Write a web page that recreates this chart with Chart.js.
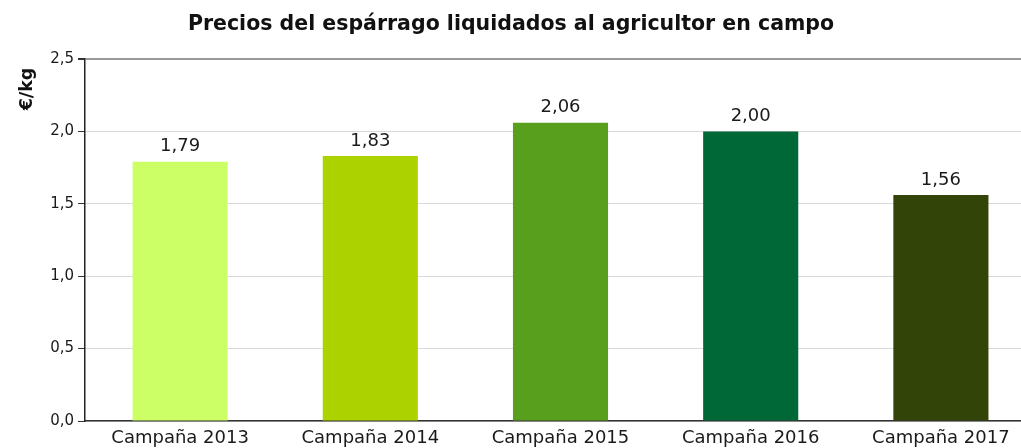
<!DOCTYPE html>
<html>
<head>
<meta charset="utf-8">
<script src="https://cdn.jsdelivr.net/npm/chart.js@4"></script>
<style>
html,body{margin:0;padding:0;background:#fff;overflow:hidden;}
#wrap{position:relative;width:1036px;height:448px;}
</style>
</head>
<body>
<div id="wrap"><canvas id="c"></canvas></div>
<script>
const chartTitle = 'Precios del espárrago liquidados al agricultor en campo';
const yAxisTitle = '€/kg';
const categories = ['Campaña 2013','Campaña 2014','Campaña 2015','Campaña 2016','Campaña 2017'];
const prices = [1.79, 1.83, 2.06, 2.00, 1.56];
const barColors = ['#CCFF66','#ACD300','#589F1E','#006837','#334409'];
const yTickLabels = ['0,0','0,5','1,0','1,5','2,0','2,5'];

const FONT = '"DejaVu Sans", sans-serif';

const titlePlugin = {
  id: 'customTitle',
  afterDraw(chart) {
    const ctx = chart.ctx;
    ctx.save();
    ctx.font = 'bold 20.5px ' + FONT;
    ctx.fillStyle = '#111';
    ctx.textAlign = 'center';
    ctx.textBaseline = 'middle';
    ctx.fillText(chartTitle, 511, 25);
    ctx.translate(27, 89);
    ctx.rotate(-Math.PI/2);
    ctx.font = 'bold 17.5px ' + FONT;
    ctx.fillText(yAxisTitle, 0, 0);
    ctx.restore();
  }
};

const labelPlugin = {
  id: 'valueLabels',
  afterDatasetsDraw(chart) {
    const ctx = chart.ctx;
    const meta = chart.getDatasetMeta(0);
    ctx.save();
    ctx.font = '18px ' + FONT;
    ctx.fillStyle = '#1a1a1a';
    ctx.textAlign = 'center';
    ctx.textBaseline = 'bottom';
    meta.data.forEach((bar, i) => {
      ctx.fillText(prices[i].toFixed(2).replace('.', ','), bar.x, bar.y - 6);
    });
    ctx.restore();
  }
};

new Chart(document.getElementById('c'), {
  type: 'bar',
  data: {
    labels: categories,
    datasets: [{
      data: prices,
      backgroundColor: barColors,
      borderWidth: 0,
      categoryPercentage: 1,
      barPercentage: 0.5
    }]
  },
  options: {
    responsive: true,
    maintainAspectRatio: false,
    animation: false,
    layout: { padding: { top: 59, left: 0, right: 0, bottom: 0 } },
    plugins: { legend: { display: false }, tooltip: { enabled: false }, title: { display: false } },
    scales: {
      x: {
        grid: { display: false, drawTicks: false },
        border: { display: true, color: '#333', width: 1.5 },
        ticks: { color: '#1a1a1a', font: { family: FONT, size: 18 }, padding: 7, maxRotation: 0 },
        afterFit(scale) { scale.height = 27; }
      },
      y: {
        min: 0, max: 2.5,
        ticks: {
          stepSize: 0.5,
          color: '#1a1a1a',
          font: { family: FONT, size: 15 },
          padding: 4,
          callback: (v, i) => yTickLabels[i]
        },
        grid: {
          color: ctx => (ctx.tick && ctx.tick.value === 2.5) ? '#999' : '#d9d9d9',
          lineWidth: ctx => (ctx.tick && ctx.tick.value === 2.5) ? 2 : 1,
          tickColor: '#333',
          tickLength: 7
        },
        border: { display: true, color: '#222', width: 1.5 },
        afterFit(scale) { scale.width = 85; }
      }
    }
  },
  plugins: [titlePlugin, labelPlugin]
});
</script>
</body>
</html>
